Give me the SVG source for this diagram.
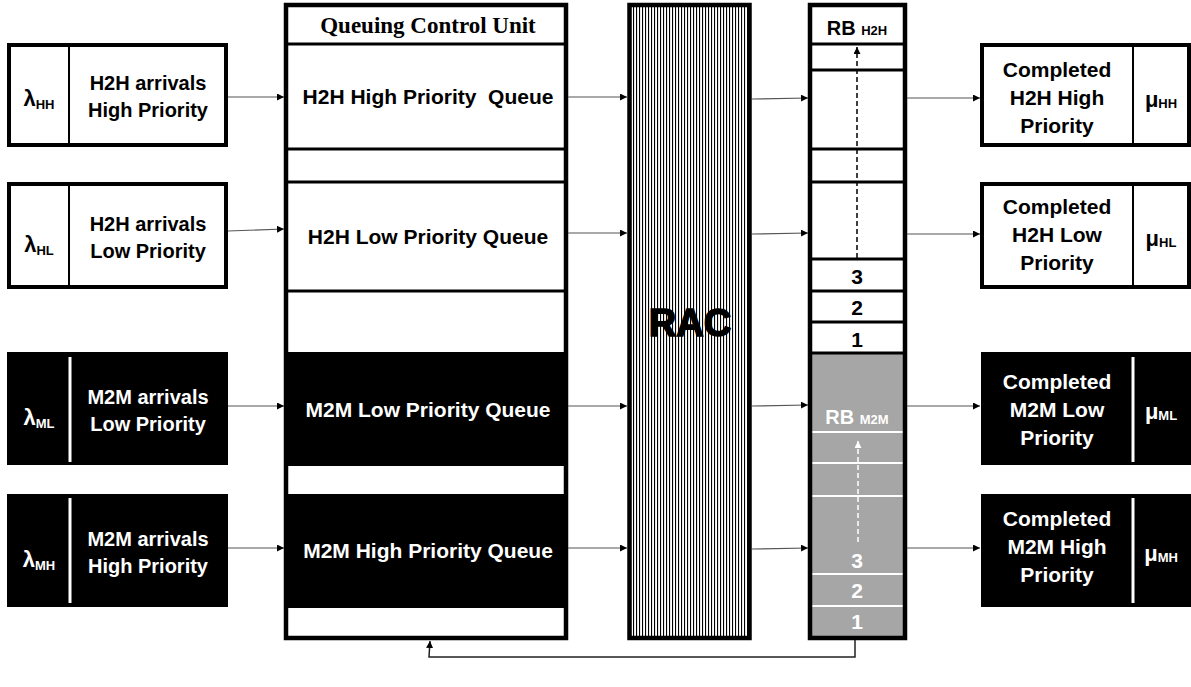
<svg xmlns="http://www.w3.org/2000/svg" width="1191" height="687" viewBox="0 0 1191 687">
<style>
.t{font-family:"Liberation Sans",Arial,sans-serif;font-weight:bold;font-size:20px;text-anchor:middle;fill:#000}
.q{font-size:21px}
.c{font-size:21px}
.n{font-size:21px}
.w{fill:#fff}
.box{fill:#fff;stroke:#000;stroke-width:4}
.blk{fill:#000}
.div{stroke:#000;stroke-width:2}
.wdiv{stroke:#fff;stroke-width:3}
.ln{stroke:#000;stroke-width:3}
.wl{stroke:#fff;stroke-width:2}
.conn{stroke:#555;stroke-width:1.2;fill:none}
.sub{font-size:13px}
</style>
<defs>
<marker id="ah" viewBox="0 0 8 8" refX="8" refY="4" markerWidth="7" markerHeight="7" markerUnits="userSpaceOnUse" orient="auto"><path d="M0,0 L8,4 L0,8 z" fill="#000"/></marker>
<marker id="ahw" viewBox="0 0 8 8" refX="8" refY="4" markerWidth="7" markerHeight="7" markerUnits="userSpaceOnUse" orient="auto"><path d="M0,0 L8,4 L0,8 z" fill="#fff"/></marker>
<pattern id="vl" patternUnits="userSpaceOnUse" width="3" height="10"><rect width="3" height="10" fill="#fff"/><rect x="0" y="0" width="1.1" height="10" fill="#000"/></pattern>
</defs>

<!-- Arrival boxes -->
<g id="arr-hh">
<rect class="box" x="9" y="45" width="217" height="100"/>
<line class="div" x1="69" y1="45" x2="69" y2="145"/>
<text class="t" x="39" y="106" style="font-size:22px">λ<tspan class="sub" dy="3">HH</tspan></text>
<text class="t" x="148" y="90">H2H arrivals</text>
<text class="t" x="148" y="117">High Priority</text>
</g>
<g id="arr-hl">
<rect class="box" x="9" y="184" width="217" height="103"/>
<line class="div" x1="69" y1="184" x2="69" y2="287"/>
<text class="t" x="39" y="252" style="font-size:22px">λ<tspan class="sub" dy="3">HL</tspan></text>
<text class="t" x="148" y="231">H2H arrivals</text>
<text class="t" x="148" y="258">Low Priority</text>
</g>
<g id="arr-ml">
<rect class="blk" x="7" y="352" width="221" height="113"/>
<line class="wdiv" x1="70" y1="357" x2="70" y2="462"/>
<text class="t w" x="39" y="425" style="font-size:22px">λ<tspan class="sub" dy="3">ML</tspan></text>
<text class="t w" x="148" y="404">M2M arrivals</text>
<text class="t w" x="148" y="431">Low Priority</text>
</g>
<g id="arr-mh">
<rect class="blk" x="7" y="494" width="221" height="113"/>
<line class="wdiv" x1="70" y1="498" x2="70" y2="603"/>
<text class="t w" x="39" y="567" style="font-size:22px">λ<tspan class="sub" dy="3">MH</tspan></text>
<text class="t w" x="148" y="546">M2M arrivals</text>
<text class="t w" x="148" y="573">High Priority</text>
</g>

<!-- Queuing Control Unit -->
<g id="qcu">
<rect x="286" y="5" width="280" height="633" fill="#fff"/>
<rect class="blk" x="286" y="352" width="280" height="114"/>
<rect class="blk" x="286" y="494" width="280" height="114"/>
<line class="ln" x1="286" y1="44" x2="566" y2="44"/>
<line class="ln" x1="286" y1="149" x2="566" y2="149"/>
<line class="ln" x1="286" y1="182" x2="566" y2="182"/>
<line class="ln" x1="286" y1="291" x2="566" y2="291"/>
<rect x="286" y="5" width="280" height="633" fill="none" stroke="#000" stroke-width="4.5"/>
<text x="428" y="33" style="font-family:'Liberation Serif','Times New Roman',serif;font-weight:bold;font-size:23px;text-anchor:middle">Queuing Control Unit</text>
<text class="t q" x="428" y="104" xml:space="preserve">H2H High Priority  Queue</text>
<text class="t q" x="428" y="244">H2H Low Priority Queue</text>
<text class="t q w" x="428" y="417">M2M Low Priority Queue</text>
<text class="t q w" x="428" y="558">M2M High Priority Queue</text>
</g>

<!-- RAC -->
<g id="rac">
<rect x="629.5" y="5" width="120" height="633" fill="url(#vl)" stroke="#000" stroke-width="4.5"/>
<text class="t" x="690" y="336" style="font-size:38px;stroke:#000;stroke-width:1.5">RAC</text>
</g>

<!-- Resource blocks -->
<g id="rb">
<rect x="810" y="5" width="95" height="348" fill="#fff"/>
<rect x="810" y="353" width="95" height="285" fill="#a6a6a6"/>
<line class="ln" x1="810" y1="44" x2="905" y2="44"/>
<line class="ln" x1="810" y1="70" x2="905" y2="70"/>
<line class="ln" x1="810" y1="149" x2="905" y2="149"/>
<line class="ln" x1="810" y1="182" x2="905" y2="182"/>
<line class="ln" x1="810" y1="259" x2="905" y2="259"/>
<line class="ln" x1="810" y1="291" x2="905" y2="291"/>
<line class="ln" x1="810" y1="322" x2="905" y2="322"/>
<line class="ln" x1="810" y1="353" x2="905" y2="353"/>
<line class="wl" x1="810" y1="432" x2="905" y2="432"/>
<line class="wl" x1="810" y1="463" x2="905" y2="463"/>
<line class="wl" x1="810" y1="496" x2="905" y2="496"/>
<line class="wl" x1="810" y1="574" x2="905" y2="574"/>
<line class="wl" x1="810" y1="606" x2="905" y2="606"/>
<rect x="810" y="5" width="95" height="633" fill="none" stroke="#000" stroke-width="4.5"/>
<text class="t" x="857" y="35" style="font-size:20px">RB <tspan class="sub">H2H</tspan></text>
<text class="t n" x="857" y="284">3</text>
<text class="t n" x="857" y="315">2</text>
<text class="t n" x="857" y="347">1</text>
<text class="t w" x="857" y="424" style="font-size:20px">RB <tspan class="sub">M2M</tspan></text>
<text class="t n w" x="857" y="568">3</text>
<text class="t n w" x="857" y="598">2</text>
<text class="t n w" x="857" y="629">1</text>
<line x1="857" y1="258" x2="857" y2="47" stroke="#000" stroke-width="1.5" stroke-dasharray="5,3" marker-end="url(#ah)"/>
<line x1="858" y1="542" x2="858" y2="441" stroke="#fff" stroke-width="1.5" stroke-dasharray="5,3" marker-end="url(#ahw)"/>
</g>

<!-- Completed boxes -->
<g id="cmp-hh">
<rect class="box" x="982" y="45" width="207" height="100"/>
<line class="div" x1="1133" y1="45" x2="1133" y2="145"/>
<text class="t c" x="1057" y="77">Completed</text>
<text class="t c" x="1057" y="105">H2H High</text>
<text class="t c" x="1057" y="133">Priority</text>
<text class="t" x="1161" y="107" style="font-size:22px">μ<tspan class="sub" dy="1">HH</tspan></text>
</g>
<g id="cmp-hl">
<rect class="box" x="982" y="184" width="207" height="103"/>
<line class="div" x1="1133" y1="184" x2="1133" y2="287"/>
<text class="t c" x="1057" y="214">Completed</text>
<text class="t c" x="1057" y="242">H2H Low</text>
<text class="t c" x="1057" y="270">Priority</text>
<text class="t" x="1161" y="246" style="font-size:22px">μ<tspan class="sub" dy="1">HL</tspan></text>
</g>
<g id="cmp-ml">
<rect class="blk" x="981" y="352" width="210" height="113"/>
<line class="wdiv" x1="1133" y1="357" x2="1133" y2="462"/>
<text class="t c w" x="1057" y="389">Completed</text>
<text class="t c w" x="1057" y="417">M2M Low</text>
<text class="t c w" x="1057" y="445">Priority</text>
<text class="t w" x="1161" y="419" style="font-size:22px">μ<tspan class="sub" dy="1">ML</tspan></text>
</g>
<g id="cmp-mh">
<rect class="blk" x="981" y="494" width="210" height="113"/>
<line class="wdiv" x1="1133" y1="498" x2="1133" y2="603"/>
<text class="t c w" x="1057" y="526">Completed</text>
<text class="t c w" x="1057" y="554">M2M High</text>
<text class="t c w" x="1057" y="582">Priority</text>
<text class="t w" x="1161" y="561" style="font-size:22px">μ<tspan class="sub" dy="1">MH</tspan></text>
</g>

<!-- Connectors -->
<g id="connectors">
<line class="conn" x1="228" y1="97" x2="284" y2="97" marker-end="url(#ah)"/>
<line class="conn" x1="568" y1="97" x2="627" y2="97" marker-end="url(#ah)"/>
<line class="conn" x1="752" y1="99" x2="808" y2="98" marker-end="url(#ah)"/>
<line class="conn" x1="907" y1="98" x2="980" y2="98" marker-end="url(#ah)"/>

<line class="conn" x1="228" y1="231" x2="284" y2="229" marker-end="url(#ah)"/>
<line class="conn" x1="568" y1="233" x2="627" y2="233" marker-end="url(#ah)"/>
<line class="conn" x1="752" y1="234" x2="808" y2="233" marker-end="url(#ah)"/>
<line class="conn" x1="907" y1="234" x2="980" y2="234" marker-end="url(#ah)"/>

<line class="conn" x1="228" y1="406" x2="284" y2="406" marker-end="url(#ah)"/>
<line class="conn" x1="568" y1="406" x2="627" y2="406" marker-end="url(#ah)"/>
<line class="conn" x1="752" y1="406" x2="808" y2="405" marker-end="url(#ah)"/>
<line class="conn" x1="907" y1="406" x2="980" y2="406" marker-end="url(#ah)"/>

<line class="conn" x1="228" y1="548" x2="284" y2="548" marker-end="url(#ah)"/>
<line class="conn" x1="568" y1="548" x2="627" y2="548" marker-end="url(#ah)"/>
<line class="conn" x1="752" y1="549" x2="808" y2="548" marker-end="url(#ah)"/>
<line class="conn" x1="907" y1="548" x2="980" y2="548" marker-end="url(#ah)"/>

<polyline points="855,640 855,657 429,657 430,641" fill="none" stroke="#222" stroke-width="1.5" marker-end="url(#ah)"/>
</g>
</svg>
